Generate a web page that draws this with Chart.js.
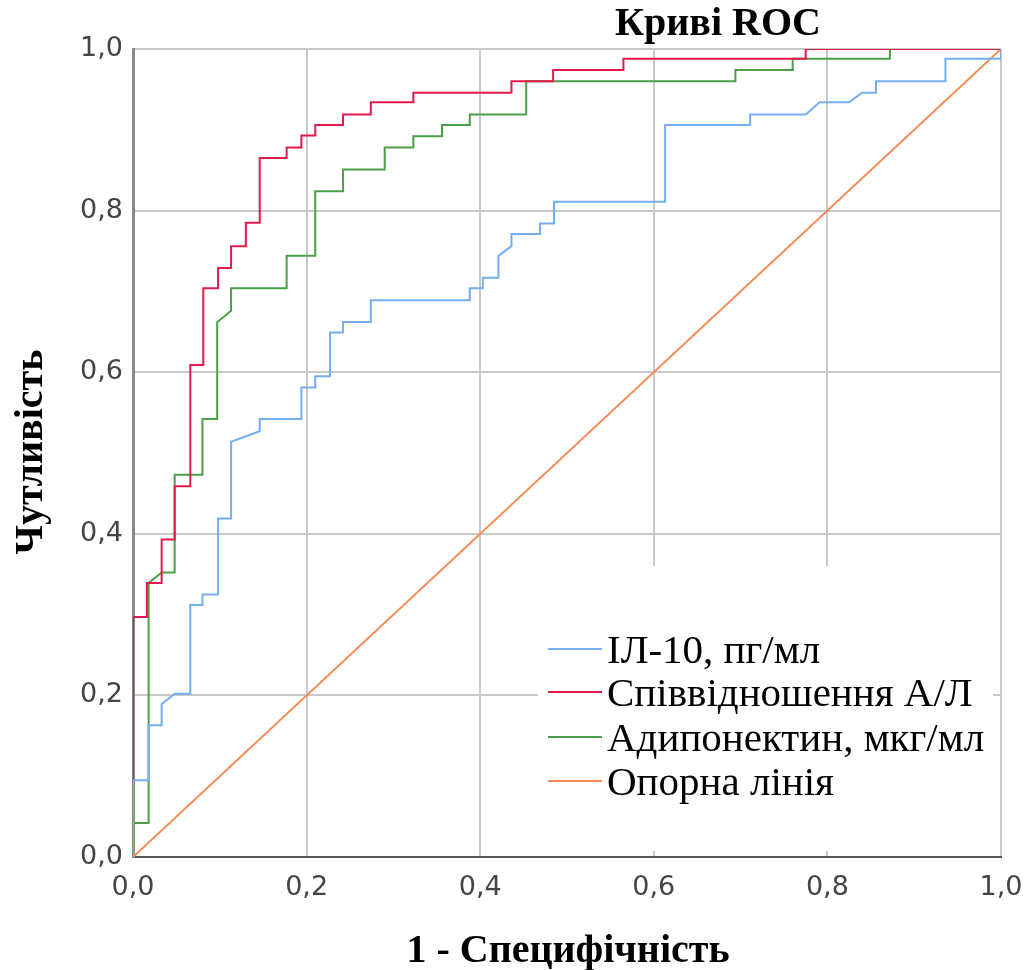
<!DOCTYPE html>
<html>
<head>
<meta charset="utf-8">
<script src="https://cdn.jsdelivr.net/npm/chart.js@4"></script>
<style>
  body { margin: 0; background: #fff; }
  #wrap { width: 1028px; height: 970px; }
</style>
</head>
<body>
<div id="wrap"><canvas id="roc" width="1028" height="970"></canvas></div>
<script>
// values: 1 - specificity (x) and sensitivity (y)
const seriesNames = ["ІЛ-10, пг/мл", "Співвідношення А/Л", "Адипонектин, мкг/мл", "Опорна лінія"];

const il10Fpr = [0, 0, 0.018, 0.018, 0.033, 0.033, 0.048, 0.066, 0.066, 0.080, 0.080, 0.098, 0.098, 0.113, 0.113, 0.146, 0.146, 0.194, 0.194, 0.210, 0.210, 0.227, 0.227, 0.242, 0.242, 0.274, 0.274, 0.388, 0.388, 0.403, 0.403, 0.421, 0.421, 0.436, 0.436, 0.469, 0.469, 0.485, 0.485, 0.613, 0.613, 0.711, 0.711, 0.775, 0.791, 0.825, 0.840, 0.856, 0.856, 0.936, 0.936, 1, 1];
const il10Tpr = [0, 0.095, 0.095, 0.163, 0.163, 0.189, 0.202, 0.202, 0.312, 0.312, 0.325, 0.325, 0.419, 0.419, 0.514, 0.527, 0.542, 0.542, 0.581, 0.581, 0.595, 0.595, 0.649, 0.649, 0.662, 0.662, 0.689, 0.689, 0.704, 0.704, 0.717, 0.717, 0.744, 0.756, 0.771, 0.771, 0.784, 0.784, 0.811, 0.811, 0.906, 0.906, 0.919, 0.919, 0.934, 0.934, 0.946, 0.946, 0.960, 0.960, 0.988, 0.988, 1];

const ratioFpr = [0, 0, 0.016, 0.016, 0.033, 0.033, 0.048, 0.048, 0.066, 0.066, 0.081, 0.081, 0.098, 0.098, 0.113, 0.113, 0.130, 0.130, 0.146, 0.146, 0.177, 0.177, 0.194, 0.194, 0.210, 0.210, 0.242, 0.242, 0.274, 0.274, 0.323, 0.323, 0.436, 0.436, 0.484, 0.484, 0.565, 0.565, 0.775, 0.775, 1];
const ratioTpr = [0, 0.297, 0.297, 0.339, 0.339, 0.393, 0.393, 0.459, 0.459, 0.609, 0.609, 0.704, 0.704, 0.729, 0.729, 0.756, 0.756, 0.785, 0.785, 0.865, 0.865, 0.878, 0.878, 0.893, 0.893, 0.906, 0.906, 0.919, 0.919, 0.934, 0.934, 0.946, 0.946, 0.960, 0.960, 0.974, 0.974, 0.988, 0.988, 1, 1];

const adipoFpr = [0, 0, 0.018, 0.018, 0.033, 0.048, 0.048, 0.080, 0.080, 0.097, 0.097, 0.113, 0.113, 0.177, 0.177, 0.210, 0.210, 0.242, 0.242, 0.290, 0.290, 0.323, 0.323, 0.356, 0.356, 0.388, 0.388, 0.453, 0.453, 0.694, 0.694, 0.760, 0.760, 0.872, 0.872, 1];
const adipoTpr = [0, 0.042, 0.042, 0.339, 0.352, 0.352, 0.473, 0.473, 0.542, 0.542, 0.662, 0.676, 0.704, 0.704, 0.744, 0.744, 0.824, 0.824, 0.851, 0.851, 0.878, 0.878, 0.892, 0.892, 0.906, 0.906, 0.919, 0.919, 0.960, 0.960, 0.974, 0.974, 0.988, 0.988, 1, 1];

const refFpr = [0, 1];
const refTpr = [0, 1];

const lineColors = ["#74aef0", "#e2194a", "#4a9f48", "#f58a50"];

function toPoints(xs, ys) {
    return xs.map((x, i) => ({ x: x, y: ys[i] }));
}

const fmtTick = v => v.toFixed(1).replace(".", ",");

// title, axis titles and the boxed legend are placed by hand like the SPSS output
const decorPlugin = {
    id: "decor",
    beforeDatasetsDraw(chart) {
        const ctx = chart.ctx;
        ctx.save();
        ctx.fillStyle = "#ffffff";
        ctx.fillRect(538, 566, 455, 285);
        ctx.restore();
    },
    afterDraw(chart) {
        const ctx = chart.ctx;
        ctx.save();
        ctx.fillStyle = "#000";
        ctx.textBaseline = "alphabetic";
        ctx.textAlign = "center";

        ctx.font = "bold 40px 'Liberation Serif'";
        ctx.fillText("Криві ROC", 718, 35);

        ctx.font = "bold 40px 'Liberation Serif'";
        ctx.fillText("1 - Специфічність", 568, 962);

        ctx.save();
        ctx.translate(42, 452);
        ctx.rotate(-Math.PI / 2);
        ctx.fillText("Чутливість", 0, 0);
        ctx.restore();

        // legend
        ctx.font = "41px 'Liberation Serif'";
        ctx.textAlign = "left";
        ctx.textBaseline = "middle";
        const lineY = [649, 692, 737, 781];
        chart.data.datasets.forEach((ds, i) => {
            ctx.strokeStyle = ds.borderColor;
            ctx.lineWidth = 2;
            ctx.beginPath();
            ctx.moveTo(548, lineY[i]);
            ctx.lineTo(602, lineY[i]);
            ctx.stroke();
            ctx.fillStyle = "#000";
            ctx.fillText(ds.label, 607, lineY[i] + 3);
        });
        ctx.restore();
    }
};

new Chart(document.getElementById("roc"), {
    type: "line",
    data: {
        datasets: [
            { label: seriesNames[0], data: toPoints(il10Fpr, il10Tpr), borderColor: lineColors[0] },
            { label: seriesNames[1], data: toPoints(ratioFpr, ratioTpr), borderColor: lineColors[1] },
            { label: seriesNames[2], data: toPoints(adipoFpr, adipoTpr), borderColor: lineColors[2] },
            { label: seriesNames[3], data: toPoints(refFpr, refTpr), borderColor: lineColors[3] }
        ]
    },
    options: {
        responsive: false,
        animation: false,
        events: [],
        layout: { autoPadding: false, padding: { left: 0, top: 49, right: 27, bottom: 0 } },
        elements: {
            line: { borderWidth: 2, tension: 0, fill: false },
            point: { radius: 0 }
        },
        plugins: {
            legend: { display: false },
            title: { display: false },
            tooltip: { enabled: false }
        },
        scales: {
            x: {
                type: "linear",
                min: 0,
                max: 1,
                afterFit: scale => {
                    scale.height = 113;
                    scale.paddingLeft = 0;
                    scale.paddingRight = 0;
                },
                grid: { color: "#c9c9c9", lineWidth: 2, drawTicks: false },
                border: { color: "#555", width: 2 },
                ticks: {
                    stepSize: 0.2,
                    padding: 15,
                    color: "#444",
                    font: { family: "DejaVu Sans", size: 27 },
                    callback: fmtTick
                }
            },
            y: {
                type: "linear",
                min: 0,
                max: 1,
                afterFit: scale => {
                    scale.width = 133;
                    scale.paddingTop = 0;
                    scale.paddingBottom = 0;
                },
                grid: { color: "#c9c9c9", lineWidth: 2, drawTicks: false },
                border: { color: "#888", width: 3 },
                ticks: {
                    stepSize: 0.2,
                    padding: 10,
                    color: "#444",
                    font: { family: "DejaVu Sans", size: 27 },
                    callback: fmtTick
                }
            }
        }
    },
    plugins: [decorPlugin]
});
</script>
</body>
</html>
